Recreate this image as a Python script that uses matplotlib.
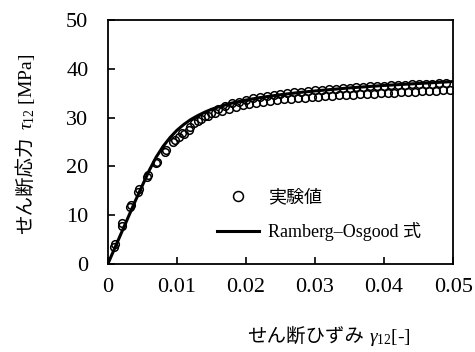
import matplotlib
matplotlib.use("Agg")
import matplotlib.pyplot as plt

plt.rcParams['font.family'] = ['Liberation Serif', 'Noto Sans CJK JP']
plt.rcParams['mathtext.fontset'] = 'custom'
plt.rcParams['mathtext.rm'] = 'Liberation Serif'
plt.rcParams['mathtext.it'] = 'Liberation Serif:italic'

# experiment, specimen A (upper row)
strain_a = [0.0009, 0.0020, 0.0032, 0.0044, 0.0057, 0.0070, 0.0083, 0.0095,
            0.0107, 0.0119, 0.0130, 0.014, 0.015, 0.016, 0.017, 0.018, 0.019,
            0.020, 0.021, 0.022, 0.023, 0.024, 0.025, 0.026, 0.027, 0.028,
            0.029, 0.030, 0.031, 0.032, 0.033, 0.034, 0.035, 0.036, 0.037,
            0.038, 0.039, 0.040, 0.041, 0.042, 0.043, 0.044, 0.045, 0.046,
            0.047, 0.048, 0.049]
stress_a = [3.5, 7.8, 11.6, 14.8, 17.9, 20.6, 23.0, 25.1,
            26.8, 28.0, 29.3, 30.3, 31.0, 31.7, 32.3, 32.9, 33.3,
            33.7, 34.0, 34.3, 34.5, 34.7, 34.9, 35.1, 35.2, 35.3,
            35.5, 35.6, 35.7, 35.8, 35.9, 36.0, 36.1, 36.2, 36.3,
            36.4, 36.5, 36.5, 36.6, 36.7, 36.7, 36.8, 36.8, 36.9,
            36.9, 37.0, 37.0]

# experiment, specimen B (lower row)
strain_b = [0.0010, 0.0021, 0.0033, 0.0045, 0.0058, 0.0071, 0.0084, 0.0097,
            0.0103, 0.0110, 0.0117, 0.0125, 0.0135, 0.0145, 0.0155, 0.0165,
            0.0175, 0.0185, 0.0195, 0.0205, 0.0215, 0.0225, 0.0235, 0.0245,
            0.0255, 0.0265, 0.0275, 0.0285, 0.0295, 0.0305, 0.0315, 0.0325,
            0.0335, 0.0345, 0.0355, 0.0365, 0.0375, 0.0385, 0.0395, 0.0405,
            0.0415, 0.0425, 0.0435, 0.0445, 0.0455, 0.0465, 0.0475, 0.0485,
            0.0495]
stress_b = [4.2, 8.5, 12.0, 15.3, 18.3, 21.0, 23.3, 25.5,
            26.0, 26.6, 27.4, 28.9, 29.7, 30.3, 30.9, 31.4,
            31.8, 32.2, 32.5, 32.8, 33.0, 33.3, 33.5, 33.6,
            33.8, 33.9, 34.0, 34.1, 34.2, 34.3, 34.4, 34.5,
            34.6, 34.7, 34.7, 34.8, 34.8, 34.9, 35.0, 35.0,
            35.1, 35.2, 35.2, 35.3, 35.4, 35.4, 35.5, 35.6,
            35.7]

# Ramberg-Osgood curve
ro_strain = [0, 0.002, 0.004, 0.006, 0.007, 0.008, 0.009, 0.010, 0.011, 0.012,
             0.013, 0.014, 0.015, 0.016, 0.018, 0.020, 0.022, 0.025, 0.028,
             0.031, 0.035, 0.040, 0.045, 0.050]
ro_stress = [0, 6.5, 13.0, 19.2, 21.9, 24.1, 25.9, 27.4, 28.6, 29.6,
             30.4, 31.1, 31.7, 32.2, 33.0, 33.6, 34.1, 34.7, 35.2,
             35.6, 36.1, 36.6, 37.0, 37.4]

xticks = [0, 0.01, 0.02, 0.03, 0.04, 0.05]
xticklabels = ['0', '0.01', '0.02', '0.03', '0.04', '0.05']
yticks = [0, 10, 20, 30, 40, 50]

W, H = 475, 352
fig = plt.figure(figsize=(W / 100, H / 100), dpi=100)
ax = fig.add_axes([0.227, 0.25, 0.727, 0.693])

mk = dict(marker='o', ls='none', ms=5.5, mfc='none', mec='black', mew=1.1)
ax.plot(strain_a, stress_a, label='実験値', **mk)
ax.plot(strain_b, stress_b, **mk)
ax.plot(ro_strain, ro_stress, color='black', lw=2.2, label='Ramberg–Osgood 式')

ax.set_xlim(0, 0.05)
ax.set_ylim(0, 50)
ax.set_xticks(xticks)
ax.set_xticklabels(xticklabels)
ax.set_yticks(yticks)
ax.tick_params(direction='in', length=5, width=1.2, labelsize=16,
               top=False, right=False)
ax.tick_params(axis='y', pad=14)
ax.tick_params(axis='x', pad=10)
for s in ax.spines.values():
    s.set_linewidth(1.3)

# axis labels: Japanese in sans, symbols in serif (built from two pieces)
jp = 'Noto Sans CJK JP'
fig.text(364 / W, 1 - 336 / H, 'せん断ひずみ', family=jp, fontsize=14,
         ha='right', va='center')
fig.text(369 / W, 1 - 338 / H, r'$\gamma_{12}$[-]', fontsize=14,
         ha='left', va='center')
fig.text(25 / W, 1 - 234 / H, 'せん断応力', family=jp, fontsize=14,
         rotation=90, ha='center', va='bottom')
fig.text(27 / W, 1 - 130 / H, r'$\tau_{12}$ [MPa]', fontsize=14,
         rotation=90, ha='center', va='bottom')

ax.legend(loc='center left', bbox_to_anchor=(0.27, 0.2), frameon=False,
          fontsize=13, handlelength=2.3, handletextpad=0.5, labelspacing=0.85,
          markerscale=1.3)

fig.savefig('out.png', dpi=100)
